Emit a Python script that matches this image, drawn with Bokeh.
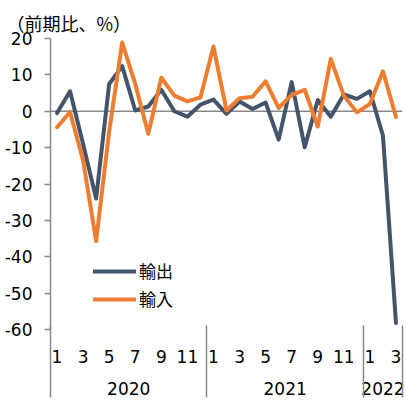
import numpy as np
from bokeh.plotting import figure
from bokeh.models import (Range1d, LinearAxis, FixedTicker, Span, Legend, LegendItem,
                          ColumnDataSource)
from bokeh.embed import file_html
from bokeh.resources import INLINE

# ---- data ----
years = [2020] * 12 + [2021] * 12 + [2022] * 3
months = list(range(1, 13)) + list(range(1, 13)) + [1, 2, 3]
exports = [-0.5, 5.5, -9.0, -24.0, 7.5, 12.4, 0.2, 1.3, 5.9, 0.0, -1.5, 1.8,
           3.2, -0.7, 2.7, 0.6, 2.4, -7.8, 8.0, -9.9, 3.1, -1.5, 4.6, 3.4,
           5.5, -6.7, -58.2]
imports = [-4.4, -0.2, -13.5, -35.7, -5.6, 18.9, 7.5, -6.2, 9.2, 4.3, 2.7, 3.8,
           17.8, 0.2, 3.6, 4.0, 8.2, 0.9, 4.5, 5.9, -4.2, 14.4, 4.3, -0.3,
           2.0, 11.0, -1.6]
y_ticks = [-60, -50, -40, -30, -20, -10, 0, 10, 20]
y_tick_labels = ["-60", "-50", "-40", "-30", "-20", "-10", "0", "10", "20"]
series_names = ["輸出", "輸入"]
title_text = "（前期比、%）"

DARK = "#44546A"
ORANGE = "#ED7D31"
GRAY = "#898989"
DIGIT_FONT = "DejaVu Sans"
CJK_FONT = "Noto Sans CJK JP"

n = len(months)
idx = list(range(n))
src = ColumnDataSource(dict(x=idx, exp=exports, imp=imports))

month_ticks = [i for i in idx if months[i] % 2 == 1]
month_over = {i: str(months[i]) for i in month_ticks}
uniq_years = sorted(set(years))
year_pos = [float(np.mean([i for i in idx if years[i] == y])) for y in uniq_years]
year_over = {pos: str(y) for pos, y in zip(year_pos, uniq_years)}
bounds = [-0.5] + [i - 0.5 for i in idx[1:] if years[i] != years[i - 1]] + [n - 0.5]

BOTTOM = 72
p = figure(width=406, height=401, x_range=Range1d(-0.5, n - 0.5), y_range=Range1d(-60, 20),
           output_backend="svg", toolbar_location=None,
           min_border_left=50, min_border_right=4, min_border_top=38, min_border_bottom=BOTTOM,
           x_axis_location=None, y_axis_location=None)
p.grid.visible = False
p.outline_line_color = None
p.background_fill_color = "white"
p.border_fill_color = "white"

p.title.text = title_text
p.title.text_font = CJK_FONT
p.title.text_font_size = "18px"
p.title.text_font_style = "normal"
p.title.text_color = "black"
p.title.align = "left"
p.title.offset = -44
p.title.standoff = 5


def style_labels(ax):
    ax.major_label_text_font = DIGIT_FONT
    ax.major_label_text_font_size = "17px"
    ax.major_label_text_color = "black"


yaxis = LinearAxis(ticker=FixedTicker(ticks=y_ticks),
                   major_label_overrides=dict(zip(y_ticks, y_tick_labels)))
yaxis.axis_line_color = GRAY
yaxis.axis_line_width = 1.5
yaxis.major_tick_line_color = GRAY
yaxis.major_tick_line_width = 1.5
yaxis.major_tick_out = 6
yaxis.major_tick_in = 0
yaxis.minor_tick_line_color = None
style_labels(yaxis)
yaxis.major_label_standoff = 12
p.add_layout(yaxis, "left")

xaxis = LinearAxis(ticker=FixedTicker(ticks=month_ticks, minor_ticks=[]),
                   major_label_overrides=month_over)
xaxis.axis_line_color = None
xaxis.major_tick_line_color = None
xaxis.minor_tick_line_color = None
xaxis.major_tick_out = 0
xaxis.major_tick_in = 0
xaxis.minor_tick_out = 0
style_labels(xaxis)
xaxis.major_label_standoff = 20
p.add_layout(xaxis, "below")

yearaxis = LinearAxis(ticker=FixedTicker(ticks=year_pos, minor_ticks=[]),
                      major_label_overrides=year_over)
yearaxis.axis_line_color = None
yearaxis.major_tick_line_color = None
yearaxis.minor_tick_line_color = None
yearaxis.major_tick_out = 0
yearaxis.major_tick_in = 0
yearaxis.minor_tick_out = 0
style_labels(yearaxis)
yearaxis.major_label_standoff = 16
p.add_layout(yearaxis, "below")

# outermost axis: its inward ticks are the group separators
sepaxis = LinearAxis(ticker=FixedTicker(ticks=bounds, minor_ticks=[]),
                     major_label_overrides={b: "" for b in bounds})
sepaxis.axis_line_color = None
sepaxis.major_tick_line_color = GRAY
sepaxis.major_tick_line_width = 1.5
sepaxis.major_tick_out = 0
sepaxis.major_tick_in = BOTTOM
sepaxis.minor_tick_line_color = None
sepaxis.minor_tick_out = 0
sepaxis.major_label_text_font_size = "0px"
sepaxis.major_label_standoff = 0
p.add_layout(sepaxis, "below")

zero = Span(location=0, dimension="width", line_color=GRAY, line_width=1.5, level="underlay")
p.add_layout(zero)

r1 = p.line("x", "exp", source=src, line_color=DARK, line_width=4,
            line_join="round", line_cap="round")
r2 = p.line("x", "imp", source=src, line_color=ORANGE, line_width=4,
            line_join="round", line_cap="round")

legend = Legend(items=[LegendItem(label=series_names[0], renderers=[r1]),
                       LegendItem(label=series_names[1], renderers=[r2])],
                location=(43, 18))
legend.label_text_font = CJK_FONT
legend.label_text_font_size = "17px"
legend.label_text_color = "black"
legend.glyph_width = 43
legend.glyph_height = 20
legend.label_height = 20
legend.label_standoff = 3
legend.spacing = 3
legend.padding = 0
legend.margin = 0
legend.border_line_color = None
legend.background_fill_alpha = 0
p.add_layout(legend)

open("out.html", "w").write(file_html(p, INLINE))
